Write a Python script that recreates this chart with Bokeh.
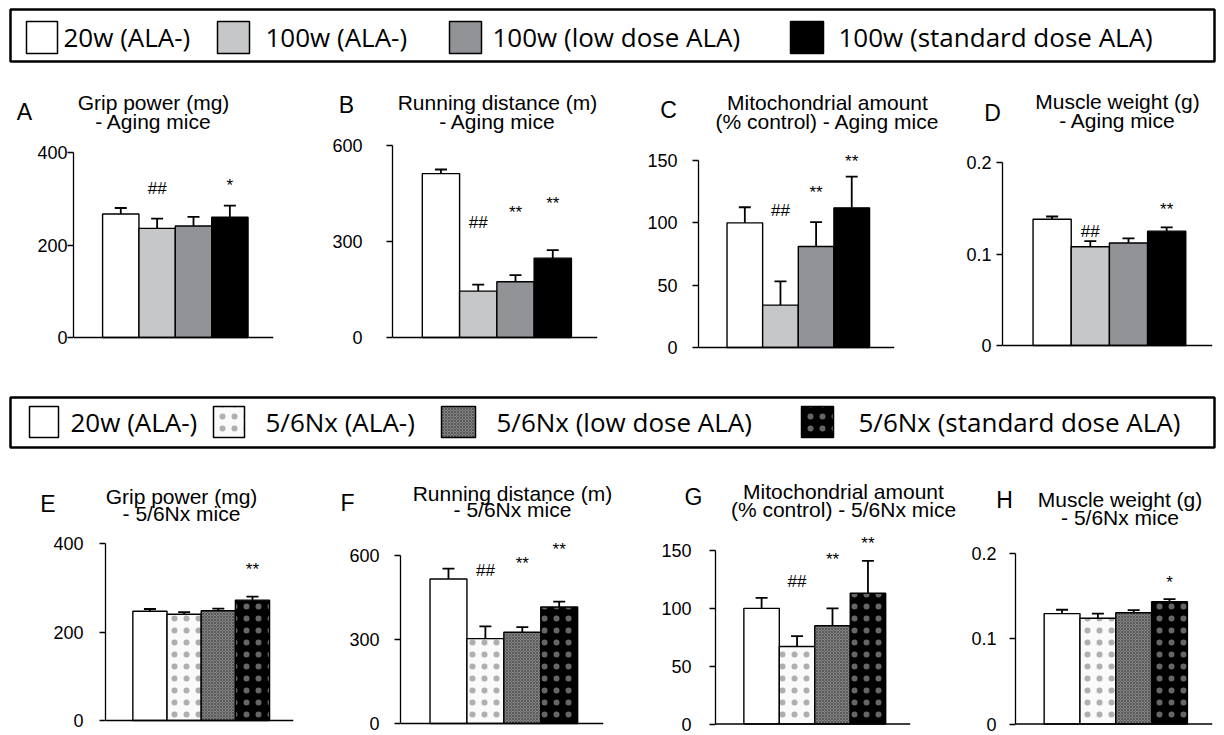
from bokeh.plotting import figure
from bokeh.layouts import column, row
from bokeh.models import Range1d, FixedTicker, ColumnDataSource, Whisker, TeeHead, Span
from bokeh.embed import file_html
from bokeh.resources import INLINE
from bokeh.core.properties import value

# ---------------- data ----------------
group_x = [1, 2, 3, 4]
aging_groups = ["20w (ALA-)", "100w (ALA-)", "100w (low dose ALA)", "100w (standard dose ALA)"]
nx_groups = ["20w (ALA-)", "5/6Nx (ALA-)", "5/6Nx (low dose ALA)", "5/6Nx (standard dose ALA)"]

grip_aging = [267, 236, 241, 260]
grip_aging_err = [13, 21, 20, 25]
run_aging = [512, 145, 174, 248]
run_aging_err = [13, 20, 21, 25]
mito_aging = [100, 34, 81, 112]
mito_aging_err = [12.5, 19, 19.5, 25]
muscle_aging = [0.138, 0.108, 0.112, 0.125]
muscle_aging_err = [0.003, 0.006, 0.005, 0.004]

grip_nx = [247, 240, 248, 272]
grip_nx_err = [5, 5, 5, 8]
run_nx = [516, 303, 326, 416]
run_nx_err = [37, 44, 18, 19]
mito_nx = [100, 67, 85, 113]
mito_nx_err = [9, 9, 15, 28]
muscle_nx = [0.1295, 0.124, 0.1305, 0.1435]
muscle_nx_err = [0.0045, 0.0055, 0.003, 0.003]

# significance marks: group, mark, height (data units)
sig_grip_aging = ([2, 4], ["##", "*"], [322, 329])
sig_run_aging = ([2, 3, 4], ["##", "**", "**"], [360, 392, 418])
sig_mito_aging = ([2, 3, 4], ["##", "**", "**"], [110, 124.5, 149])
sig_muscle_aging = ([2, 4], ["##", "**"], [0.1247, 0.149])
sig_grip_nx = ([4], ["**"], [341])
sig_run_nx = ([2, 3, 4], ["##", "**", "**"], [548, 572, 621])
sig_mito_nx = ([2, 3, 4], ["##", "**", "**"], [123, 142.5, 156])
sig_muscle_nx = ([4], ["*"], [0.1657])

ticks_grip = [0, 200, 400]
ticks_grip_labels = ["0", "200", "400"]
ticks_run = [0, 300, 600]
ticks_run_labels = ["0", "300", "600"]
ticks_mito = [0, 50, 100, 150]
ticks_mito_labels = ["0", "50", "100", "150"]
ticks_muscle = [0, 0.1, 0.2]
ticks_muscle_labels = ["0", "0.1", "0.2"]

panel_letters_top = ["A", "B", "C", "D"]
panel_letters_bottom = ["E", "F", "G", "H"]
titles_top = [["Grip power (mg)", "- Aging mice"],
              ["Running distance (m)", "- Aging mice"],
              ["Mitochondrial amount", "(% control) - Aging mice"],
              ["Muscle weight (g)", "- Aging mice"]]
titles_bottom = [["Grip power (mg)", "- 5/6Nx mice"],
                 ["Running distance (m)", "- 5/6Nx mice"],
                 ["Mitochondrial amount", "(% control) - 5/6Nx mice"],
                 ["Muscle weight (g)", "- 5/6Nx mice"]]

# ---------------- styles ----------------
TITLE_FONT = "Liberation Sans"
LEG_FONT = "Open Sans"
W = 1224

aging_styles = [
    dict(fill_color="white"),
    dict(fill_color="#c6c7c9"),
    dict(fill_color="#929396"),
    dict(fill_color="black"),
]
nx_styles = [
    dict(fill_color="white"),
    dict(fill_color="#fafafa", hatch_pattern="dot", hatch_color="black", hatch_scale=12, hatch_weight=0.4, hatch_alpha=0.3),
    dict(fill_color="#858585", hatch_pattern="diagonal_cross", hatch_color="#3a3a3a", hatch_scale=3, hatch_weight=0.6),
    dict(fill_color="black", hatch_pattern="dot", hatch_color="white", hatch_scale=12, hatch_weight=0.4, hatch_alpha=0.4),
]

X0R, X1R = -0.3, 5.2


def panel(fig_x, fig_w, row_top, row_h, bottom_border, axis_box, label_standoff,
          means, errs, styles, ticks, tick_labels, sig):
    x0, x1, ytop, y0 = axis_box
    ymax = ticks[-1]
    ppu = (y0 - ytop) / ymax
    frame_bottom = row_top + row_h - bottom_border
    y_start = -(frame_bottom - y0) / ppu
    y_end = (y0 - row_top) / ppu
    p = figure(width=fig_w, height=row_h, x_range=Range1d(X0R, X1R), y_range=Range1d(y_start, y_end),
               min_border_left=int(round(x0 - fig_x)), min_border_right=int(round(fig_x + fig_w - x1)),
               min_border_top=0, min_border_bottom=bottom_border, x_axis_location=None,
               output_backend="svg", toolbar_location=None, title=None)
    p.outline_line_color = None
    p.grid.visible = False
    p.background_fill_color = None
    p.border_fill_color = None

    ya = p.yaxis[0]
    ya.ticker = FixedTicker(ticks=ticks)
    ya.major_label_overrides = {t: l for t, l in zip(ticks, tick_labels)}
    ya.bounds = (0, ymax)
    ya.axis_line_width = 1.3
    ya.axis_line_color = "black"
    ya.major_tick_line_color = "black"
    ya.major_tick_line_width = 1.3
    ya.major_tick_out = 6
    ya.major_tick_in = 0
    ya.minor_tick_line_color = None
    ya.major_label_standoff = label_standoff
    ya.major_label_text_font = TITLE_FONT
    ya.major_label_text_font_size = "18px"
    ya.major_label_text_color = "black"

    # category baseline (value 0)
    p.add_layout(Span(location=0, dimension="width", line_color="black", line_width=1.3))

    for i in range(4):
        src = ColumnDataSource(dict(x=[group_x[i]], top=[means[i]]))
        p.vbar(x="x", top="top", bottom=0, width=1.0, source=src,
               line_color="black", line_width=1.4, **styles[i])

    wsrc = ColumnDataSource(dict(x=group_x, lower=means, upper=[m + e for m, e in zip(means, errs)]))
    p.add_layout(Whisker(source=wsrc, base="x", lower="lower", upper="upper", dimension="height",
                         line_color="black", line_width=1.8, lower_head=None,
                         upper_head=TeeHead(size=12, line_width=1.8, line_color="black"), level="glyph"))

    sx, smark, sy = sig
    ssrc = ColumnDataSource(dict(x=sx, y=sy, t=smark))
    p.text(x="x", y="y", text="t", source=ssrc, text_align="center",
           text_baseline="middle", text_font=value(TITLE_FONT), text_font_size="17px", text_color="black")
    return p


def strip(top, height):
    p = figure(width=W, height=height, x_range=Range1d(0, W), y_range=Range1d(top + height, top),
               x_axis_type=None, y_axis_type=None, min_border=0, output_backend="svg",
               toolbar_location=None, title=None)
    p.outline_line_color = None
    p.grid.visible = False
    return p


def add_legend(p, box, labels, styles, sq_x, sq_y, txt_x, txt_y):
    bl, br, bt, bb = box
    p.quad(left=[bl], right=[br], top=[bt], bottom=[bb], fill_color=None, line_color="black", line_width=2.5)
    for i, lab in enumerate(labels):
        a, b = sq_x[i]
        p.quad(left=[a], right=[b], top=[sq_y[0]], bottom=[sq_y[1]],
               line_color="black", line_width=1.5, **styles[i])
        p.text(x=[txt_x[i]], y=[txt_y], text=[lab], text_font=value(LEG_FONT),
               text_font_size="26px", text_baseline="middle", text_align="left", text_color="black")


def add_headers(p, letters, letter_pos, titles, title_pos):
    for lab, (lx, ly) in zip(letters, letter_pos):
        p.text(x=[lx], y=[ly], text=[lab], text_font=value(TITLE_FONT), text_font_size="23px",
               text_align="center", text_baseline="middle", text_color="black")
    for lines, (cx, y1, y2) in zip(titles, title_pos):
        p.text(x=[cx, cx], y=[y1, y2], text=lines, text_font=value(TITLE_FONT), text_font_size="21px",
               text_align="center", text_baseline="middle", text_color="black")


# ---- strip 1: top legend + headers of A-D ----
S1_TOP, S1_H = 0, 134
s1 = strip(S1_TOP, S1_H)
add_legend(s1, (10, 1214, 9, 61), aging_groups, aging_styles,
           [(26, 57), (217, 249), (449, 481), (790, 823)], (21, 53),
           [63, 265, 492, 838], 36.5)
add_headers(s1, panel_letters_top, [(24, 111), (346, 104), (668, 109), (992, 112)],
            titles_top, [(153, 101.5, 120.5), (497, 101.5, 120.5), (827, 101.5, 120.5), (1117, 101, 119.5)])

# ---- row 1 plots ----
R1_TOP, R1_H, R1_B = 134, 228, 12
pA = panel(0, 300, R1_TOP, R1_H, R1_B, (73, 273, 152, 337), 0, grip_aging, grip_aging_err, aging_styles,
           ticks_grip, ticks_grip_labels, sig_grip_aging)
pB = panel(300, 320, R1_TOP, R1_H, R1_B, (392, 597, 145, 337), 24, run_aging, run_aging_err, aging_styles,
           ticks_run, ticks_run_labels, sig_run_aging)
pC = panel(620, 300, R1_TOP, R1_H, R1_B, (698, 894, 160, 347), 15, mito_aging, mito_aging_err, aging_styles,
           ticks_mito, ticks_mito_labels, sig_mito_aging)
pD = panel(920, 304, R1_TOP, R1_H, R1_B, (1002, 1212, 162, 345), 5, muscle_aging, muscle_aging_err, aging_styles,
           ticks_muscle, ticks_muscle_labels, sig_muscle_aging)

# ---- strip 2: bottom legend + headers of E-H ----
S2_TOP, S2_H = 362, 166
s2 = strip(S2_TOP, S2_H)
add_legend(s2, (10, 1214, 397, 447), nx_groups, nx_styles,
           [(29, 58), (213, 244), (441, 475), (801, 833)], (406, 437),
           [70, 265, 496, 858], 421.5)
add_headers(s2, panel_letters_bottom, [(47.5, 503), (347, 502), (693, 496.5), (1004, 499)],
            titles_bottom, [(181, 496, 513), (512, 492.5, 509), (843, 490.5, 509), (1119.5, 499, 516.5)])

# ---- row 2 plots ----
R2_TOP, R2_H, R2_B = 528, 207, 4
pE = panel(0, 310, R2_TOP, R2_H, R2_B, (105, 293, 543, 720), 16, grip_nx, grip_nx_err, nx_styles,
           ticks_grip, ticks_grip_labels, sig_grip_nx)
pF = panel(310, 310, R2_TOP, R2_H, R2_B, (400, 603, 555, 723), 15, run_nx, run_nx_err, nx_styles,
           ticks_run, ticks_run_labels, sig_run_nx)
pG = panel(620, 305, R2_TOP, R2_H, R2_B, (715, 910, 550, 723.5), 18, mito_nx, mito_nx_err, nx_styles,
           ticks_mito, ticks_mito_labels, sig_mito_nx)
pH = panel(925, 299, R2_TOP, R2_H, R2_B, (1015, 1212, 553, 723.5), 13, muscle_nx, muscle_nx_err, nx_styles,
           ticks_muscle, ticks_muscle_labels, sig_muscle_nx)

layout = column(s1, row(pA, pB, pC, pD, spacing=0), s2, row(pE, pF, pG, pH, spacing=0), spacing=0)

open("out.html", "w").write(file_html(layout, INLINE))
